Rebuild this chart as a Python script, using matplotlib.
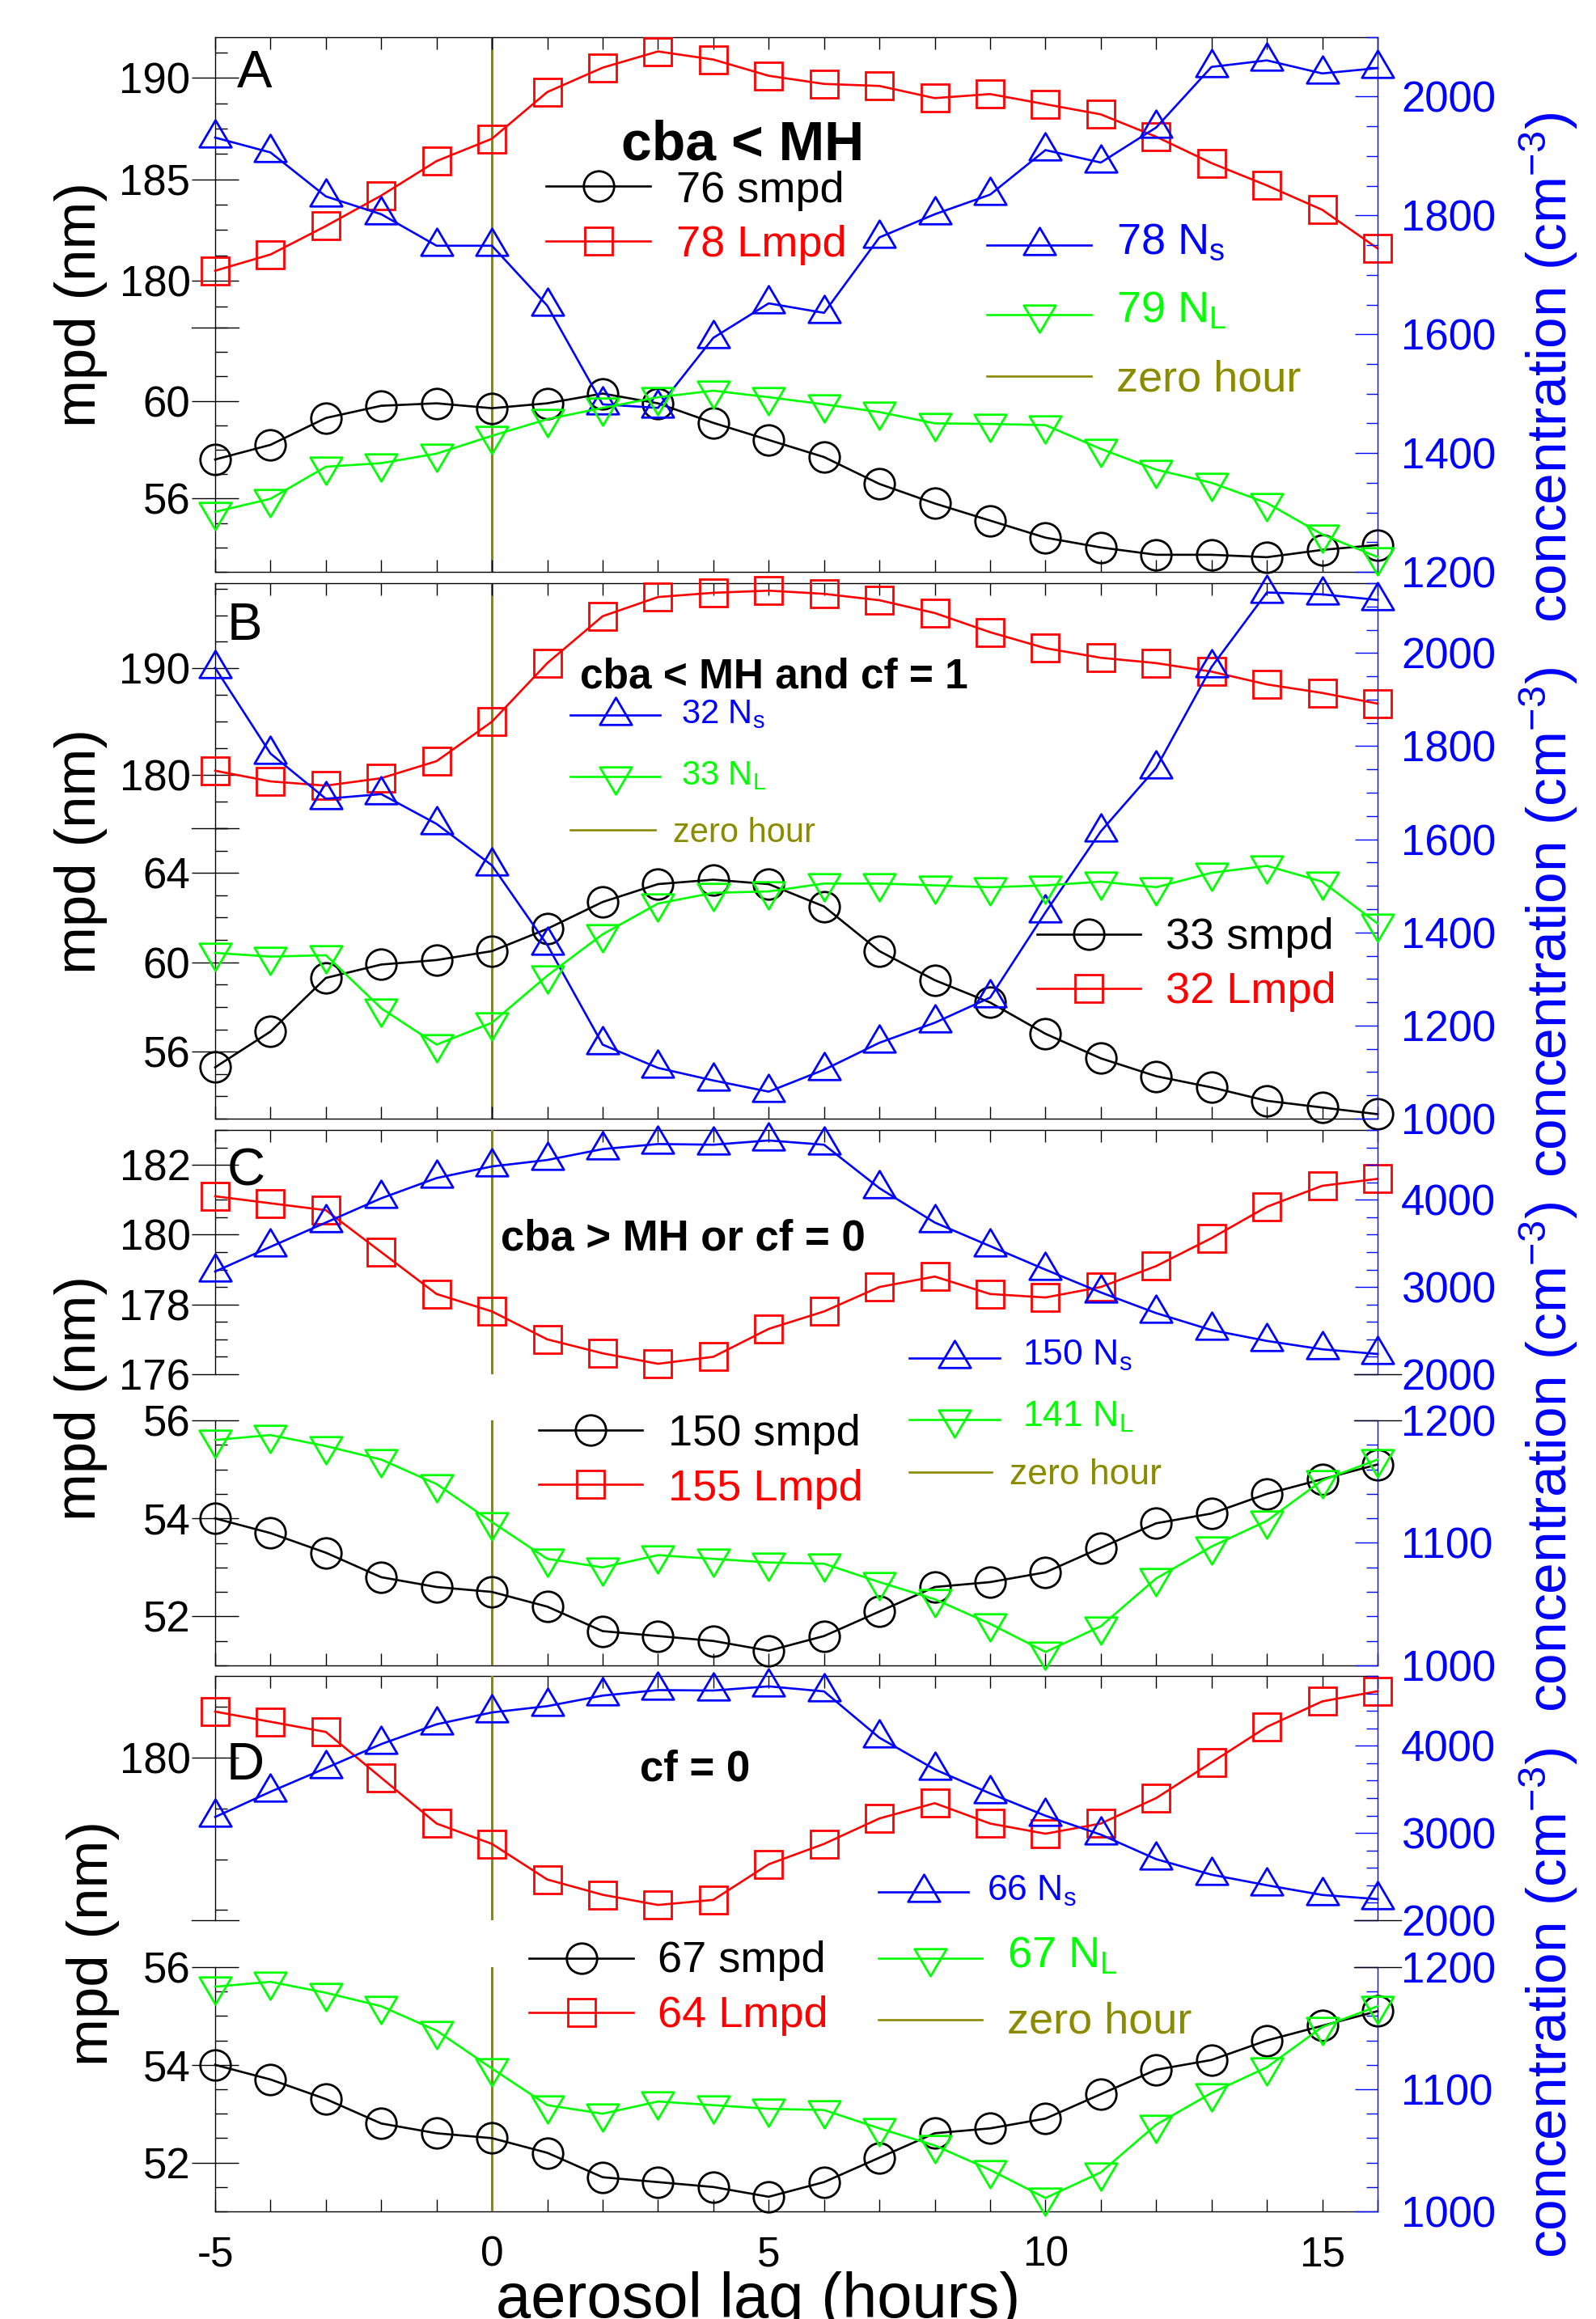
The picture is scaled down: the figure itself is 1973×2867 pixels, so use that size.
import matplotlib
matplotlib.use('Agg')
import matplotlib.pyplot as plt
from matplotlib import font_manager
from matplotlib.ticker import MultipleLocator, FuncFormatter, FormatStrFormatter
from matplotlib.path import Path
from matplotlib.lines import Line2D

plt.rcParams['font.family'] = ['Liberation Sans', 'DejaVu Sans']
plt.rcParams['mathtext.fontset'] = 'custom'
plt.rcParams['mathtext.rm'] = 'Liberation Sans'
plt.rcParams['mathtext.it'] = 'Liberation Sans:italic'
plt.rcParams['mathtext.bf'] = 'Liberation Sans:bold'

# ---- data ----
hours = list(range(-5, 17))

a_lmpd = [180.5, 181.3, 182.7, 184.2, 185.9, 187.0, 189.3, 190.5, 191.3, 190.9, 190.1,
          189.7, 189.6, 189.0, 189.2, 188.7, 188.2, 187.1, 185.8, 184.7, 183.5, 181.6]
a_smpd = [57.6, 58.2, 59.3, 59.8, 59.9, 59.7, 59.9, 60.3, 59.9, 59.1, 58.4,
          57.7, 56.6, 55.8, 55.1, 54.4, 54.0, 53.7, 53.7, 53.6, 53.9, 54.1]
a_ns = [1931, 1906, 1832, 1802, 1749, 1749, 1648, 1482, 1476, 1594, 1652,
        1636, 1763, 1802, 1835, 1910, 1889, 1948, 2050, 2061, 2039, 2048]
a_nl = [1301, 1323, 1377, 1383, 1399, 1429, 1457, 1476, 1494, 1505, 1494,
        1482, 1469, 1450, 1449, 1447, 1407, 1372, 1350, 1316, 1263, 1225]

b_lmpd = [180.4, 179.4, 179.0, 179.7, 181.3, 185.0, 190.5, 194.9, 196.7, 197.1, 197.3,
          197.0, 196.4, 195.2, 193.4, 191.9, 191.0, 190.5, 189.7, 188.5, 187.7, 186.7]
b_smpd = [55.3, 56.9, 59.3, 59.9, 60.1, 60.5, 61.5, 62.7, 63.5, 63.7, 63.5,
          62.5, 60.5, 59.2, 58.2, 56.8, 55.7, 54.9, 54.4, 53.8, 53.5, 53.2]
b_ns = [1968, 1784, 1687, 1697, 1633, 1544, 1373, 1159, 1109, 1082, 1058,
        1105, 1163, 1206, 1260, 1443, 1617, 1753, 1970, 2130, 2126, 2114]
b_nl = [1356, 1348, 1351, 1237, 1159, 1206, 1307, 1396, 1462, 1485, 1488,
        1505, 1505, 1501, 1497, 1501, 1509, 1497, 1528, 1543, 1509, 1419]

c_lmpd = [181.1, 180.9, 180.7, 179.5, 178.3, 177.8, 177.0, 176.6, 176.3, 176.5, 177.3,
          177.8, 178.5, 178.8, 178.3, 178.2, 178.5, 179.1, 179.9, 180.8, 181.4, 181.6]
c_smpd = [54.0, 53.7, 53.3, 52.8, 52.6, 52.5, 52.2, 51.7, 51.6, 51.5, 51.3,
          51.6, 52.1, 52.6, 52.7, 52.9, 53.4, 53.9, 54.1, 54.5, 54.8, 55.1]
c_ns = [3178, 3461, 3739, 4017, 4249, 4382, 4456, 4581, 4639, 4631, 4680,
        4631, 4133, 3739, 3469, 3199, 2938, 2701, 2506, 2382, 2286, 2232]
c_nl = [1184, 1188, 1179, 1168, 1148, 1117, 1087, 1080, 1090, 1087, 1084,
        1083, 1068, 1054, 1034, 1011, 1032, 1071, 1097, 1118, 1151, 1168]

d_lmpd = [180.9, 180.7, 180.5, 179.6, 178.7, 178.3, 177.6, 177.3, 177.1, 177.2, 177.9,
          178.3, 178.8, 179.1, 178.7, 178.5, 178.7, 179.2, 179.9, 180.6, 181.1, 181.3]
d_smpd = [54.0, 53.7, 53.3, 52.8, 52.6, 52.5, 52.2, 51.7, 51.6, 51.5, 51.3,
          51.6, 52.1, 52.6, 52.7, 52.9, 53.4, 53.9, 54.1, 54.5, 54.8, 55.1]
d_ns = [3184, 3473, 3744, 4019, 4246, 4382, 4454, 4575, 4638, 4633, 4681,
        4623, 4092, 3729, 3454, 3198, 2981, 2700, 2522, 2401, 2290, 2242]
d_nl = [1184, 1188, 1179, 1168, 1148, 1117, 1087, 1080, 1090, 1087, 1084,
        1083, 1068, 1054, 1034, 1011, 1032, 1071, 1097, 1118, 1151, 1168]

# ---- style ----
RED, BLUE, GREEN, OLIVE = '#ff0000', '#0000ff', '#00ff00', '#8b8b00'
LW, MW, LW_AX = 1.9, 2.0, 1.0
TRI_UP = Path([(-0.906, -0.54), (0.906, -0.54), (0, 1), (-0.906, -0.54)],
              [Path.MOVETO, Path.LINETO, Path.LINETO, Path.CLOSEPOLY])
TRI_DN = Path([(-0.906, 0.54), (0.906, 0.54), (0, -1), (-0.906, 0.54)],
              [Path.MOVETO, Path.LINETO, Path.LINETO, Path.CLOSEPOLY])
MARK = {'o': 27, 's': 25, 'up': 31.4, 'dn': 31.4}

# the right axis title in the original is a tall, narrow face
font_names = {f.name for f in font_manager.fontManager.ttflist}
if 'Liberation Sans Narrow' in font_names:
    CONC_FONT, CONC_SIZE = 'Liberation Sans Narrow', 57
else:
    CONC_FONT, CONC_SIZE = 'Liberation Sans', 50

W, H = 1973, 2867
X0, X1 = 266, 1703
fig = plt.figure(figsize=(W / 100, H / 100), dpi=100)


def fx(x):
    return x / W


def fy(y):
    return 1 - y / H


def rect(y0, y1):
    return [X0 / W, 1 - y1 / H, (X1 - X0) / W, (y1 - y0) / H]


def series(ax, y, color, m):
    marker = {'up': TRI_UP, 'dn': TRI_DN}.get(m, m)
    ax.plot(hours, y, color=color, lw=LW, marker=marker, ms=MARK[m],
            mfc='none', mec=color, mew=MW, clip_on=False, zorder=3)


def make_frame(top, bot, xlabels=False):
    ax = fig.add_axes(rect(top, bot))
    ax.set_facecolor('none')
    ax.set_xlim(-5, 16)
    ax.spines['left'].set_visible(False)
    ax.spines['right'].set_visible(False)
    for s in ('top', 'bottom'):
        ax.spines[s].set_linewidth(LW_AX)
    ax.set_yticks([])
    ax.xaxis.set_major_locator(MultipleLocator(1))
    ax.xaxis.set_major_formatter(FuncFormatter(lambda v, p: '%d' % v if v % 5 == 0 else ''))
    ax.tick_params(axis='x', which='both', direction='in', length=11, width=LW_AX,
                   top=True, bottom=True, labelbottom=xlabels, labelsize=37, pad=21)
    return ax


def make_left(y0, y1, lim, major, minor):
    ax = fig.add_axes(rect(y0, y1))
    ax.set_facecolor('none')
    for s in ('top', 'bottom', 'right'):
        ax.spines[s].set_visible(False)
    ax.spines['left'].set_linewidth(LW_AX)
    ax.set_xticks([])
    ax.yaxis.set_major_locator(MultipleLocator(major))
    ax.yaxis.set_minor_locator(MultipleLocator(minor))
    ax.yaxis.set_major_formatter(FormatStrFormatter('%d'))
    ax.tick_params(axis='y', which='major', direction='inout', length=42, width=LW_AX,
                   labelsize=38, pad=1)
    ax.tick_params(axis='y', which='minor', direction='in', length=11, width=LW_AX)
    ax.set_xlim(-5, 16)
    ax.set_ylim(*lim)
    return ax


def make_right(y0, y1, lim, major, minor):
    ax = fig.add_axes(rect(y0, y1))
    ax.set_facecolor('none')
    for s in ('top', 'bottom', 'left'):
        ax.spines[s].set_visible(False)
    ax.spines['right'].set_color(BLUE)
    ax.spines['right'].set_linewidth(LW_AX)
    ax.set_xticks([])
    ax.yaxis.set_major_locator(MultipleLocator(major))
    ax.yaxis.set_minor_locator(MultipleLocator(minor))
    ax.yaxis.set_major_formatter(FormatStrFormatter('%d'))
    ax.tick_params(axis='y', which='both', left=False, right=True, labelleft=False,
                   labelright=True, direction='in', colors=BLUE, width=LW_AX)
    ax.tick_params(axis='y', which='major', length=20.5, labelsize=38, pad=21)
    ax.tick_params(axis='y', which='minor', length=10)
    ax.set_xlim(-5, 16)
    ax.set_ylim(*lim)
    return ax


def break_tick(ax, yv, side):
    xs = [-0.0202, 0.0202] if side == 'left' else [0.9798, 1.0202]
    ax.plot(xs, [yv, yv], transform=ax.get_yaxis_transform(), color='k',
            lw=LW_AX, clip_on=False, zorder=4)
    ax.set_ylim(ax.get_ylim())


def key(x0, x1, y, color, m=None):
    fig.add_artist(Line2D([fx(x0), fx(x1)], [fy(y), fy(y)], color=color, lw=LW))
    if m:
        marker = {'up': TRI_UP, 'dn': TRI_DN}.get(m, m)
        fig.add_artist(Line2D([fx((x0 + x1) / 2)], [fy(y)], ls='none', marker=marker,
                              ms=MARK[m], mfc='none', mec=color, mew=MW))


def label(x, y, s, color='k', size=39, weight='normal'):
    fig.text(fx(x), fy(y), s, color=color, fontsize=size, fontweight=weight,
             ha='left', va='baseline')


def ylabels(ymid, conc_mid, mpd_x=100):
    fig.text(fx(mpd_x), fy(ymid), 'mpd (nm)', rotation=90, ha='center', va='center',
             fontsize=51)
    fig.text(fx(1937), fy(conc_mid), r'concentration (cm$^{\mathregular{-3}}$)',
             rotation=90, rotation_mode='anchor', ha='center', va='baseline',
             fontsize=CONC_SIZE, family=CONC_FONT, color=BLUE)


# ---- panel A ----
fr = make_frame(46, 707)
fr.axvline(0, color=OLIVE, lw=2.2, zorder=0)
up = make_left(46, 405, (177.7, 192), 5, 1.25)
lo = make_left(405, 707, (53, 63), 4, 1)
break_tick(lo, 63, 'left')
rt = make_right(46, 707, (1200, 2100), 200, 50)
series(up, a_lmpd, RED, 's')
series(lo, a_smpd, 'k', 'o')
series(rt, a_ns, BLUE, 'up')
series(rt, a_nl, GREEN, 'dn')
label(293, 108, 'A', size=47)
label(768, 197, 'cba < MH', size=49, weight='bold')
key(675, 804, 230, 'k', 'o'); label(836, 250, '76 smpd')
key(675, 804, 298, RED, 's'); label(836, 317, '78 Lmpd', RED)
key(1220, 1349, 303, BLUE, 'up'); label(1380, 314, r'78 N$_{\mathregular{s}}$', BLUE)
key(1220, 1349, 389, GREEN, 'dn'); label(1380, 399, r'79 N$_{\mathregular{L}}$', GREEN)
key(1220, 1349, 465, OLIVE); label(1380, 484, 'zero hour', OLIVE)
ylabels(376, 454)

# ---- panel B ----
fr = make_frame(721, 1383)
fr.axvline(0, color=OLIVE, lw=2.2, zorder=0)
up = make_left(721, 1024, (175, 198), 10, 2.5)
lo = make_left(1024, 1383, (53, 66), 4, 1)
break_tick(lo, 66, 'left')
rt = make_right(721, 1383, (1000, 2150), 200, 50)
series(up, b_lmpd, RED, 's')
series(lo, b_smpd, 'k', 'o')
series(rt, b_ns, BLUE, 'up')
series(rt, b_nl, GREEN, 'dn')
label(281, 791, 'B', size=47)
label(717, 850, 'cba < MH and cf = 1', size=37, weight='bold')
key(705, 816, 884, BLUE, 'up'); label(842, 894, r'32 N$_{\mathregular{s}}$', BLUE, 30)
key(705, 816, 960, GREEN, 'dn'); label(842, 970, r'33 N$_{\mathregular{L}}$', GREEN, 30)
key(705, 810, 1026, OLIVE); label(832, 1041, 'zero hour', OLIVE, 30)
key(1282, 1410, 1155, 'k', 'o'); label(1441, 1173, '33 smpd')
key(1282, 1410, 1222, RED, 's'); label(1441, 1240, '32 Lmpd', RED)
ylabels(1052, 1140)

# ---- panel C ----
fr = make_frame(1397, 2059)
up = make_left(1397, 1699, (176, 183), 2, 0.5)
lo = make_left(1756, 2059, (51, 56), 2, 0.5)
up.axvline(0, color=OLIVE, lw=2.2, zorder=0)
lo.axvline(0, color=OLIVE, lw=2.2, zorder=0)
rup = make_right(1397, 1699, (2000, 4800), 1000, 200)
rlo = make_right(1756, 2059, (1000, 1200), 100, 20)
break_tick(rup, 2000, 'right')
break_tick(rlo, 1200, 'right')
series(up, c_lmpd, RED, 's')
series(lo, c_smpd, 'k', 'o')
series(rup, c_ns, BLUE, 'up')
series(rlo, c_nl, GREEN, 'dn')
label(281, 1465, 'C', size=47)
label(619, 1546, 'cba > MH or cf = 0', size=38, weight='bold')
key(666, 794, 1768, 'k', 'o'); label(826, 1787, '150 smpd')
key(666, 794, 1835, RED, 's'); label(826, 1855, '155 Lmpd', RED)
key(1124, 1236, 1679, BLUE, 'up'); label(1264, 1688, r'150 N$_{\mathregular{s}}$', BLUE, 32)
key(1124, 1236, 1755, GREEN, 'dn'); label(1264, 1764, r'141 N$_{\mathregular{L}}$', GREEN, 32)
key(1124, 1226, 1820, OLIVE); label(1248, 1835, 'zero hour', OLIVE, 32)
ylabels(1728, 1801)

# ---- panel D ----
fr = make_frame(2072, 2734, xlabels=True)
up = make_left(2072, 2374, (176.8, 181.6), 5, 1)
lo = make_left(2432, 2734, (51, 56), 2, 0.5)
break_tick(up, 176.8, 'left')
up.axvline(0, color=OLIVE, lw=2.2, zorder=0)
lo.axvline(0, color=OLIVE, lw=2.2, zorder=0)
rup = make_right(2072, 2374, (2000, 4800), 1000, 200)
rlo = make_right(2432, 2734, (1000, 1200), 100, 20)
break_tick(rup, 2000, 'right')
break_tick(rlo, 1200, 'right')
series(up, d_lmpd, RED, 's')
series(lo, d_smpd, 'k', 'o')
series(rup, d_ns, BLUE, 'up')
series(rlo, d_nl, GREEN, 'dn')
label(280, 2200, 'D', size=47)
label(791, 2201, 'cf = 0', size=38, weight='bold')
key(654, 783, 2421, 'k', 'o'); label(813, 2438, '67 smpd')
key(654, 783, 2488, RED, 's'); label(813, 2506, '64 Lmpd', RED)
key(1086, 1197, 2339, BLUE, 'up'); label(1220, 2350, r'66 N$_{\mathregular{s}}$', BLUE, 32)
key(1086, 1214, 2421, GREEN, 'dn'); label(1245, 2433, r'67 N$_{\mathregular{L}}$', GREEN)
key(1086, 1214, 2497, OLIVE); label(1245, 2514, 'zero hour', OLIVE)
ylabels(2403, 2476, mpd_x=115)

fig.text(fx(937), fy(2865), 'aerosol lag (hours)', ha='center', va='baseline', fontsize=56)

fig.savefig('out.png', dpi=100)
